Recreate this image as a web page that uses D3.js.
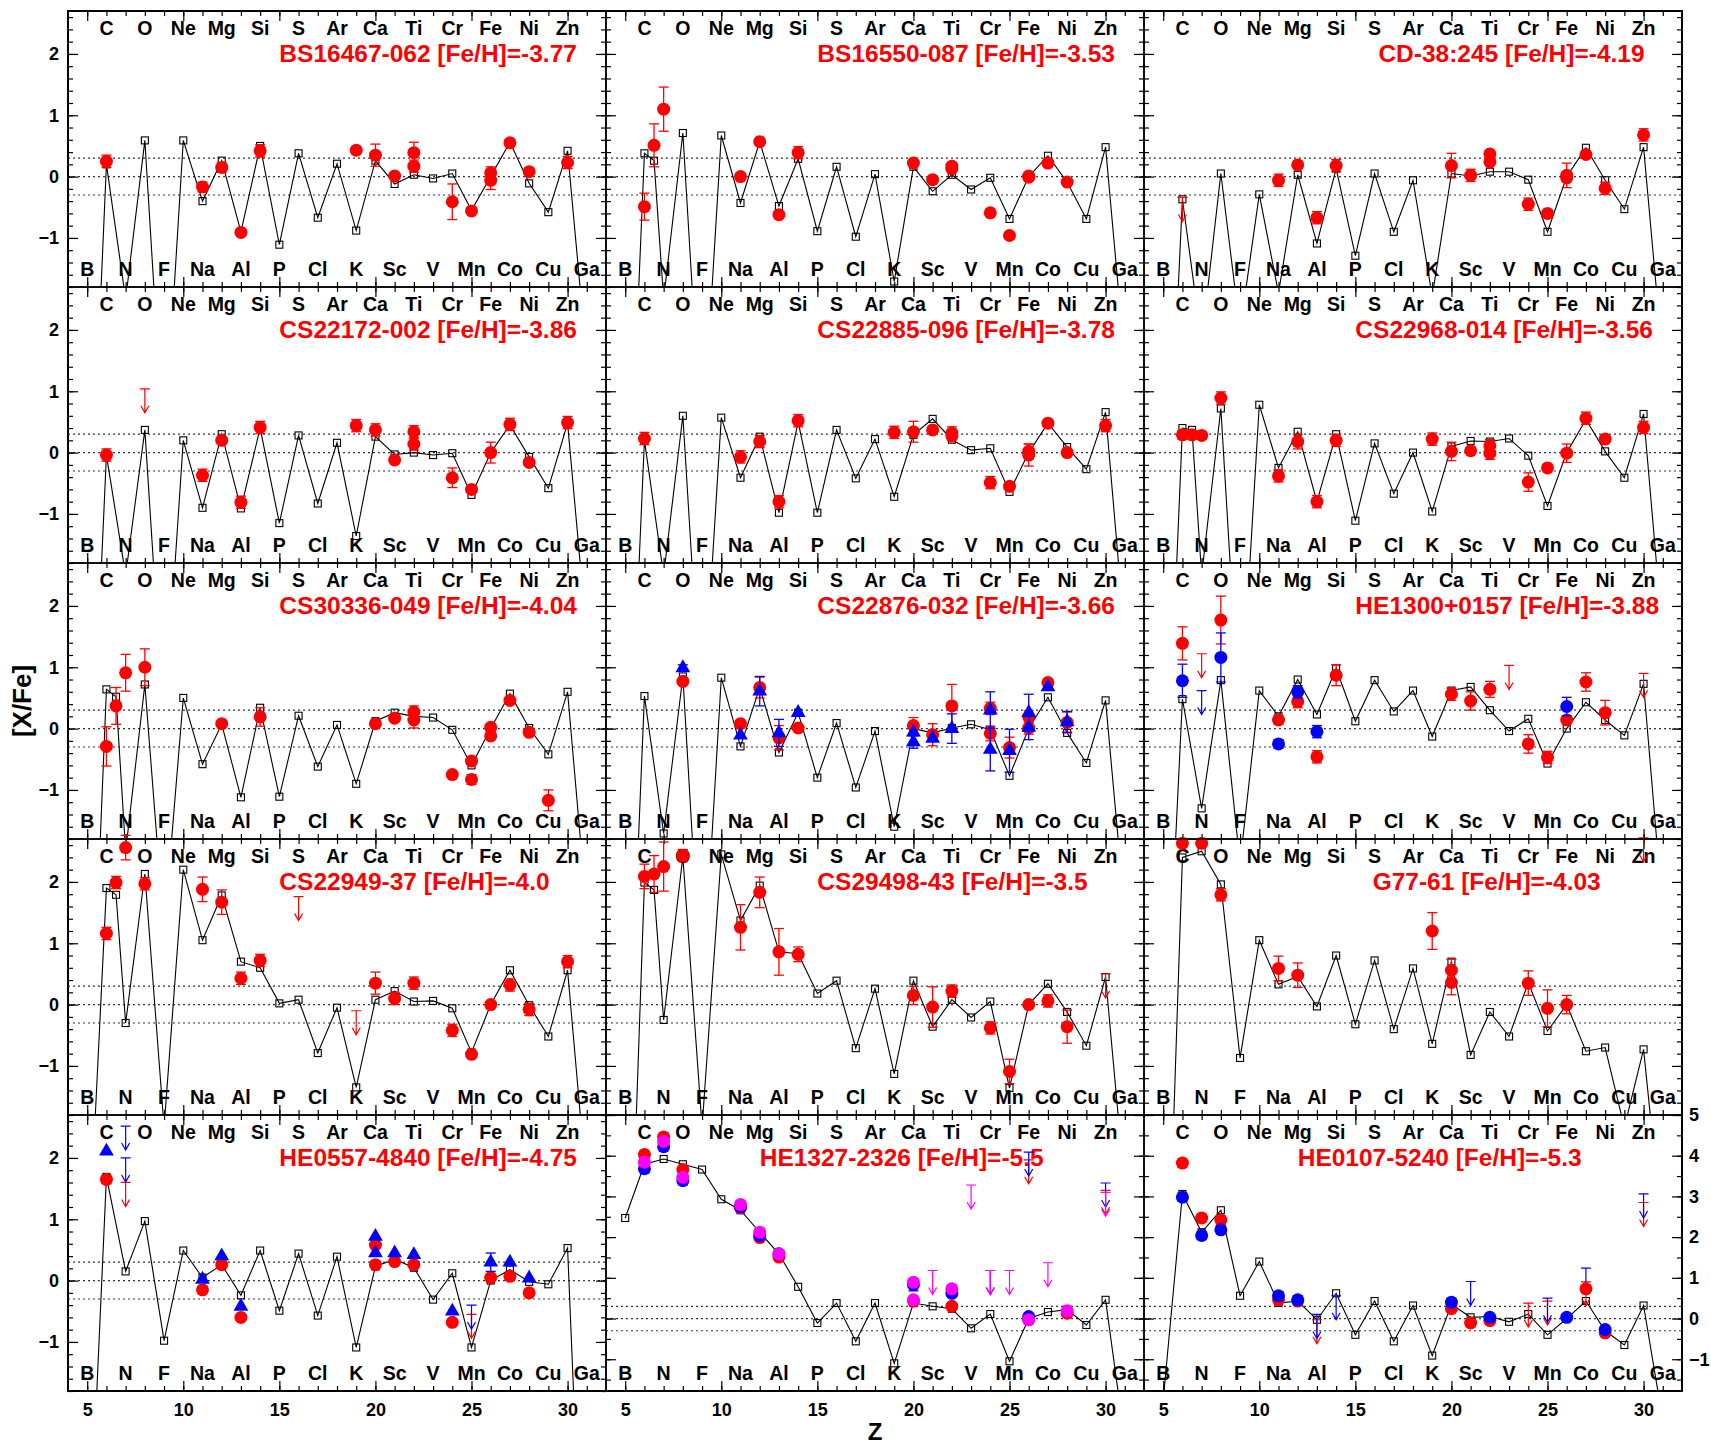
<!DOCTYPE html>
<html>
<head>
<meta charset="utf-8">
<script src="https://cdn.jsdelivr.net/npm/d3@7"></script>
<style>
  body { margin: 0; background: #fff; }
  svg { font-family: "Liberation Sans", Arial, sans-serif; font-weight: bold; }
</style>
</head>
<body>
<svg id="chart" width="1711" height="1444"></svg>
<script>
// element symbols, Z = 5 .. 31
const elementNames = ["B","C","N","O","F","Ne","Na","Mg","Al","Si","P","S","Cl","Ar","K",
  "Ca","Sc","Ti","V","Cr","Mn","Fe","Co","Ni","Cu","Zn","Ga"];

const starNames = ["BS16467-062","BS16550-087","CD-38:245","CS22172-002","CS22885-096","CS22968-014",
  "CS30336-049","CS22876-032","HE1300+0157","CS22949-37","CS29498-43","G77-61",
  "HE0557-4840","HE1327-2326","HE0107-5240"];
const starFeH = ["-3.77","-3.53","-4.19","-3.86","-3.78","-3.56","-4.04","-3.66","-3.88",
  "-4.0","-3.5","-4.03","-4.75","-5.5","-5.3"];
const titleZ = [15,15,16.2,15,15,15,15,15,15,15,15,15.9,15,12,12];
const rightScale = [0,0,0,0,0,0,0,0,0,0,0,0,0,1,1];

// model yields [Z, X/Fe]; points [Z, X/Fe, error]; limits [Z, upper value]
const model1 = [[5,-7],[6,0.2],[7,-2],[8,0.59],[9,-4.5],[10,0.59],[11,-0.4],[12,0.26],[13,-0.9],[14,0.5],[15,-1.11],[16,0.38],[17,-0.67],[18,0.21],[19,-0.88],[20,0.26],[21,-0.12],[22,0.03],[23,-0.03],[24,0.05],[25,-0.55],[26,0],[27,0.56],[28,-0.11],[29,-0.58],[30,0.42],[31,-3]];
const red1 = [[6,0.25,0.1],[11,-0.17,0.08],[12,0.15,0.08],[13,-0.91,0.05],[14,0.42,0.1],[19,0.43,0.06],[20,0.35,0.18],[21,0.01,0],[22,0.39,0.17],[22,0.17,0.1],[24,-0.41,0.29],[25,-0.56,0],[26,0.06,0.1],[26,-0.06,0.15],[27,0.55,0.05],[28,0.08,0],[30,0.23,0.1]];

const model2 = [[5,-7],[6,0.38],[6.5,0.26],[7,-2],[8,0.71],[9,-4.5],[10,0.67],[11,-0.43],[12,0.57],[13,-0.48],[14,0.29],[15,-0.89],[16,0.16],[17,-0.98],[18,0.04],[19,-1.71],[20,0.16],[21,-0.24],[22,0.03],[23,-0.21],[24,-0.02],[25,-0.69],[26,0],[27,0.34],[28,-0.09],[29,-0.69],[30,0.48],[31,-3]];
const red2 = [[6,-0.49,0.22],[6.5,0.51,0.35],[7,1.1,0.36],[11,0,0],[12,0.57,0],[13,-0.62,0],[14,0.39,0.1],[20,0.22,0],[21,-0.05,0],[22,0.17,0],[22,0.13,0],[24,-0.59,0.04],[25,-0.96,0.05],[26,0.01,0.04],[26,-0.01,0],[27,0.22,0.04],[28,-0.09,0]];

const model3 = [[5,-7],[6,-0.37],[7,-2.7],[8,0.05],[9,-2.5],[10,-0.29],[11,-1.9],[12,0.03],[13,-1.09],[14,0.13],[15,-1.29],[16,0.05],[17,-0.9],[18,-0.06],[19,-1.95],[20,0.05],[21,0.01],[22,0.08],[23,0.08],[24,-0.05],[25,-0.9],[26,0],[27,0.47],[28,-0.06],[29,-0.53],[30,0.48],[31,-3]];
const red3 = [[11,-0.06,0.1],[12,0.19,0],[13,-0.67,0.1],[14,0.18,0.1],[20,0.18,0.2],[21,0.02,0.1],[22,0.37,0],[22,0.24,0],[24,-0.45,0.1],[25,-0.6,0],[26,0.02,0.2],[26,-0.02,0],[27,0.36,0],[28,-0.19,0.1],[30,0.68,0.1]];
const redLim3 = [[6,-0.34]];

const model4 = [[5,-7],[6,-0.04],[7,-2],[8,0.37],[9,-4.5],[10,0.2],[11,-0.9],[12,0.3],[13,-0.91],[14,0.4],[15,-1.15],[16,0.28],[17,-0.83],[18,0.16],[19,-1.36],[20,0.26],[21,-0.03],[22,0],[23,-0.04],[24,-0.01],[25,-0.69],[26,0],[27,0.45],[28,-0.07],[29,-0.58],[30,0.48],[31,-3]];
const red4 = [[6,-0.04,0.1],[11,-0.37,0.1],[12,0.2,0],[13,-0.81,0.1],[14,0.41,0.1],[19,0.44,0.1],[20,0.37,0.1],[21,-0.12,0],[22,0.34,0.1],[22,0.14,0.1],[24,-0.41,0.16],[25,-0.6,0],[26,0,0.17],[27,0.46,0.1],[28,-0.16,0],[30,0.49,0.1]];
const redLim4 = [[8,1.04]];

const model5 = [[5,-7],[6,0.2],[7,-2],[8,0.6],[9,-4.5],[10,0.57],[11,-0.41],[12,0.26],[13,-0.98],[14,0.5],[15,-0.98],[16,0.37],[17,-0.42],[18,0.22],[19,-0.72],[20,0.29],[21,0.55],[22,0.21],[23,0.04],[24,0.07],[25,-0.64],[26,0],[27,0.48],[28,0.09],[29,-0.27],[30,0.66],[31,-3]];
const red5 = [[6,0.23,0.1],[11,-0.07,0.1],[12,0.18,0.1],[13,-0.8,0.1],[14,0.52,0.1],[19,0.33,0.1],[20,0.34,0.17],[21,0.37,0],[22,0.32,0.1],[22,0.27,0],[24,-0.49,0.1],[25,-0.55,0],[26,0.02,0.12],[26,-0.04,0.18],[27,0.48,0],[28,0,0],[30,0.44,0.1]];

const model6 = [[5,-7],[6,0.4],[6.5,0.37],[7,-2],[8,0.72],[9,-4.5],[10,0.78],[11,-0.25],[12,0.34],[13,-0.8],[14,0.3],[15,-1.11],[16,0.15],[17,-0.67],[18,0],[19,-0.96],[20,0.1],[21,0.19],[22,0.18],[23,0.23],[24,-0.05],[25,-0.87],[26,0],[27,0.54],[28,0.02],[29,-0.41],[30,0.63],[31,-3]];
const red6 = [[6,0.29,0.07],[6.5,0.29,0.05],[7,0.28,0.06],[8,0.89,0.1],[11,-0.38,0.1],[12,0.18,0.12],[13,-0.8,0.1],[14,0.2,0.1],[19,0.22,0.1],[20,0.02,0.15],[21,0.03,0],[22,0.11,0.1],[22,-0.01,0.1],[24,-0.48,0.15],[25,-0.25,0],[26,-0.01,0.15],[27,0.56,0.1],[28,0.22,0],[30,0.41,0.1]];

const model7 = [[5,-7],[6,0.64],[6.5,0.52],[7,-2],[8,0.72],[9,-3.3],[10,0.5],[11,-0.58],[12,0.07],[13,-1.12],[14,0.34],[15,-1.11],[16,0.21],[17,-0.62],[18,0.06],[19,-0.9],[20,0.12],[21,0.26],[22,0.2],[23,0.18],[24,-0.02],[25,-0.6],[26,0],[27,0.57],[28,0.01],[29,-0.42],[30,0.6],[31,-3]];
const red7 = [[6,-0.29,0.32],[6.5,0.37,0.3],[7,0.91,0.3],[8,1.0,0.3],[12,0.08,0],[14,0.19,0.15],[20,0.08,0],[21,0.17,0],[22,0.27,0.1],[22,0.14,0.13],[24,-0.75,0.05],[25,-0.53,0.05],[25,-0.83,0.08],[26,0.02,0.05],[26,-0.12,0.05],[27,0.46,0.05],[28,-0.06,0],[29,-1.17,0.17]];

const model8 = [[5,-7],[6,0.53],[7,-1.71],[8,0.85],[9,-4.5],[10,0.83],[11,-0.29],[12,0.67],[13,-0.39],[14,0.26],[15,-0.8],[16,0.09],[17,-0.96],[18,-0.04],[19,-1.6],[20,0],[21,-0.07],[22,0.01],[23,0.07],[24,-0.02],[25,-0.77],[26,0],[27,0.51],[28,-0.07],[29,-0.56],[30,0.46],[31,-3]];
const red8 = [[8,0.77,0],[11,0.08,0],[12,0.67,0.17],[13,-0.15,0.2],[14,0.01,0],[20,0.05,0.13],[21,-0.1,0.18],[22,0.37,0.35],[24,0.33,0.1],[24,-0.08,0.12],[25,-0.31,0.17],[26,0.19,0.1],[26,0.01,0.1],[27,0.75,0],[28,0.1,0.17]];
const blueTri8 = [[8,0.99,0.05],[11,-0.11,0],[12,0.61,0.24],[13,-0.07,0.22],[14,0.26,0],[20,-0.06,0],[20,-0.22,0.1],[21,-0.16,0],[22,0,0.24],[24,0.3,0.3],[24,-0.34,0.35],[25,-0.36,0.35],[26,0.26,0.3],[26,0.02,0.2],[27,0.68,0],[28,0.11,0.17]];

const model9 = [[5,-6],[6,0.48],[7,-1.3],[8,0.79],[9,-2.2],[10,0.62],[11,0.2],[12,0.8],[13,0.23],[14,0.98],[15,0.12],[16,0.79],[17,0.28],[18,0.62],[19,-0.13],[20,0.62],[21,0.68],[22,0.3],[23,-0.04],[24,0.16],[25,-0.57],[26,0],[27,0.43],[28,0.14],[29,-0.11],[30,0.73],[31,-3]];
const red9 = [[6,1.39,0.27],[8,1.77,0.39],[11,0.14,0.07],[12,0.44,0.1],[13,-0.46,0.1],[14,0.87,0.17],[20,0.56,0.1],[21,0.45,0.15],[22,0.64,0.13],[24,-0.25,0.15],[25,-0.47,0.1],[26,0.14,0],[27,0.76,0.15],[28,0.26,0.2]];
const redLim9 = [[7,1.22],[23,1.03],[30,0.9]];
const blue9 = [[6,0.78,0.27],[8,1.16,0.4],[11,-0.25,0.07],[12,0.6,0.1],[13,-0.05,0.1],[26,0.36,0.15]];
const blueLim9 = [[7,0.62]];

const model10 = [[5,-4.5],[6,1.9],[6.5,1.79],[7,-0.3],[8,2.13],[9,-2],[10,2.2],[11,1.05],[12,1.78],[13,0.7],[14,0.6],[15,0.02],[16,0.08],[17,-0.79],[18,-0.05],[19,-1.35],[20,0.08],[21,0.22],[22,0.05],[23,0.06],[24,-0.06],[25,-0.78],[26,0],[27,0.56],[28,-0.01],[29,-0.52],[30,0.56],[31,-3]];
const red10 = [[6,1.16,0.1],[6.5,1.99,0.1],[7,2.56,0.2],[8,1.97,0.1],[11,1.88,0.2],[12,1.67,0.2],[13,0.43,0.1],[14,0.72,0.1],[20,0.35,0.18],[21,0.1,0.1],[22,0.35,0.1],[24,-0.42,0.1],[25,-0.81,0.05],[26,0,0],[27,0.32,0.1],[28,-0.08,0.1],[30,0.7,0.1]];
const redLim10 = [[16,1.76],[19,-0.1]];

const model11 = [[5,-7],[6,1.99],[6.5,1.87],[7,-0.25],[8,2.41],[9,-2],[10,2.45],[11,1.37],[12,1.94],[13,0.86],[14,0.83],[15,0.18],[16,0.39],[17,-0.71],[18,0.26],[19,-1.13],[20,0.39],[21,-0.36],[22,0.08],[23,-0.21],[24,0.05],[25,-1.36],[26,0],[27,0.34],[28,-0.12],[29,-0.67],[30,0.45],[31,-3]];
const red11 = [[6,2.09,0.2],[6.5,2.13,0.3],[7,2.25,0.4],[8,2.43,0.1],[11,1.26,0.37],[12,1.83,0.25],[13,0.86,0.38],[14,0.82,0.12],[20,0.15,0.15],[21,-0.04,0.33],[22,0.22,0.1],[24,-0.38,0.1],[25,-1.09,0.2],[26,0,0],[27,0.06,0.1],[28,-0.36,0.27]];
const redLim11 = [[30,0.5]];

const model12 = [[5,-7],[6,2.4],[7,2.5],[8,1.96],[9,-0.87],[10,1.05],[11,0.33],[12,0.46],[13,-0.03],[14,0.8],[15,-0.32],[16,0.72],[17,-0.4],[18,0.59],[19,-0.64],[20,0.7],[21,-0.82],[22,-0.12],[23,-0.52],[24,0.36],[25,-0.43],[26,0],[27,-0.76],[28,-0.7],[29,-2],[30,-0.73],[31,-3.8]];
const red12 = [[6,2.63,0],[7,2.63,0],[8,1.79,0.1],[11,0.59,0.2],[12,0.48,0.2],[19,1.2,0.3],[20,0.56,0.18],[20,0.36,0.2],[24,0.35,0.2],[25,-0.06,0.3],[26,0,0.15]];
const redLim12 = [[30,2.72]];

const model13 = [[5,-5.3],[6,1.69],[7,0.15],[8,0.97],[9,-0.98],[10,0.49],[11,0.05],[12,0.26],[13,-0.24],[14,0.49],[15,-0.49],[16,0.44],[17,-0.57],[18,0.39],[19,-1.09],[20,0.23],[21,0.35],[22,0.21],[23,-0.31],[24,0.12],[25,-1.09],[26,0],[27,0.18],[28,-0.02],[29,-0.06],[30,0.53],[31,-7]];
const red13 = [[6,1.65,0.07],[11,-0.15,0],[12,0.26,0],[13,-0.6,0],[20,0.58,0],[20,0.26,0],[21,0.31,0],[22,0.26,0],[24,-0.68,0],[26,0.05,0],[27,0.07,0],[28,-0.2,0]];
const redLim13 = [[7,1.6],[25,-0.55]];
const blueTri13 = [[6,2.11,0],[11,0.02,0],[12,0.4,0],[13,-0.42,0],[20,0.72,0],[20,0.45,0],[21,0.45,0],[22,0.42,0],[24,-0.5,0],[26,0.3,0.15],[27,0.3,0],[28,0.04,0]];
const blueLim13 = [[7,2.52],[7,2.0],[25,-0.4]];

const model14 = [[5,2.47],[6,3.79],[7,3.92],[8,3.79],[9,3.66],[10,2.93],[11,2.66],[12,2.12],[13,1.59],[14,0.78],[15,-0.11],[16,0.38],[17,-0.56],[18,0.38],[19,-1.1],[20,0.38],[21,0.3],[22,0.24],[23,-0.24],[24,0.11],[25,-1.05],[26,0],[27,0.16],[28,0.22],[29,-0.16],[30,0.46],[31,-3]];
const red14 = [[6,4.03,0.1],[7,4.46,0.1],[8,3.66,0],[11,2.72,0],[12,1.99,0],[13,1.51,0],[20,0.43,0],[22,0.3,0],[26,-0.03,0],[28,0.13,0]];
const blue14 = [[6,3.68,0.1],[7,4.22,0.1],[8,3.39,0.1],[11,2.74,0],[12,2.04,0],[13,1.59,0],[20,0.83,0.15],[22,0.62,0],[26,0.05,0]];
const magenta14 = [[6,3.84,0],[7,4.35,0],[8,3.47,0],[11,2.8,0.1],[12,2.12,0.1],[13,1.59,0.1],[20,0.89,0],[20,0.46,0],[22,0.73,0],[26,-0.03,0.1],[28,0.19,0]];
const redLim14 = [[26,3.9],[30,3.15]];
const blueLim14 = [[24,1.18],[26,4.09],[30,3.33]];
const magentaLim14 = [[21,1.18],[23,3.28],[24,1.18],[25,1.18],[27,1.37],[30,3.1]];

const model15 = [[5,-2],[6,3.06],[7,2.12],[8,2.66],[9,0.56],[10,1.4],[11,0.38],[12,0.43],[13,-0.03],[14,0.62],[15,-0.4],[16,0.43],[17,-0.56],[18,0.32],[19,-0.91],[20,0.35],[21,0.03],[22,0.05],[23,-0.08],[24,0.11],[25,-0.4],[26,0],[27,0.43],[28,-0.3],[29,-0.65],[30,0.32],[31,-2.5]];
const red15 = [[6,3.82,0.1],[7,2.47,0.1],[8,2.42,0.1],[11,0.46,0],[12,0.43,0],[20,0.24,0],[21,-0.11,0],[22,-0.05,0],[27,0.73,0],[28,-0.35,0]];
const blue15 = [[6,2.98,0.1],[7,2.04,0.1],[8,2.18,0.1],[11,0.56,0.1],[12,0.46,0.1],[20,0.4,0.1],[22,0.03,0],[26,0.03,0],[28,-0.27,0]];
const redLim15 = [[13,-0.03],[24,0.38],[25,0.43],[27,0.9],[30,2.85]];
const blueLim15 = [[13,0.1],[14,0.56],[21,0.91],[25,0.5],[27,1.24],[30,3.06]];

const panels = [
  { model: model1, red: red1 },
  { model: model2, red: red2 },
  { model: model3, red: red3, redLim: redLim3 },
  { model: model4, red: red4, redLim: redLim4 },
  { model: model5, red: red5 },
  { model: model6, red: red6 },
  { model: model7, red: red7 },
  { model: model8, red: red8, blueTri: blueTri8 },
  { model: model9, red: red9, redLim: redLim9, blue: blue9, blueLim: blueLim9 },
  { model: model10, red: red10, redLim: redLim10 },
  { model: model11, red: red11, redLim: redLim11 },
  { model: model12, red: red12, redLim: redLim12 },
  { model: model13, red: red13, redLim: redLim13, blueTri: blueTri13, blueLim: blueLim13 },
  { model: model14, red: red14, blue: blue14, magenta: magenta14, redLim: redLim14, blueLim: blueLim14, magentaLim: magentaLim14 },
  { model: model15, red: red15, blue: blue15, redLim: redLim15, blueLim: blueLim15 },
];

const RED = "#ff0000", BLUE = "#0000ff", MAGENTA = "#ff00ff";
const gridLeft = 68, gridTop = 11, colW = 538, rowH = 276;

const svg = d3.select("#chart");
const x = d3.scaleLinear().domain([4, 32]).range([0, colW]);
const yLeft = d3.scaleLinear().domain([-1.8, 2.7]).range([rowH, 0]);
const yRight = d3.scaleLinear().domain([-1.78, 5]).range([rowH, 0]);

svg.append("defs").append("clipPath").attr("id", "clip")
  .append("rect").attr("width", colW).attr("height", rowH);

function inward(g, axis) {
  g.call(axis).call((s) => s.select(".domain").remove());
  g.selectAll(".tick line").attr("stroke", "#000").attr("stroke-width", 1.2);
}

function drawErrors(g, data, y, color) {
  const e = data.filter((d) => d[2] > 0);
  g.selectAll(null).data(e).join("line")
    .attr("x1", (d) => x(d[0])).attr("x2", (d) => x(d[0]))
    .attr("y1", (d) => y(d[1] + d[2])).attr("y2", (d) => y(d[1] - d[2]))
    .attr("stroke", color).attr("stroke-width", 1.3);
  [1, -1].forEach((s) => {
    g.selectAll(null).data(e).join("line")
      .attr("x1", (d) => x(d[0]) - 5).attr("x2", (d) => x(d[0]) + 5)
      .attr("y1", (d) => y(d[1] + s * d[2])).attr("y2", (d) => y(d[1] + s * d[2]))
      .attr("stroke", color).attr("stroke-width", 1.3);
  });
}

function drawCircles(g, data, y, color) {
  if (!data) return;
  drawErrors(g, data, y, color);
  g.selectAll(null).data(data).join("circle")
    .attr("cx", (d) => x(d[0])).attr("cy", (d) => y(d[1]))
    .attr("r", 6.5).attr("fill", color);
}

function drawTriangles(g, data, y, color) {
  if (!data) return;
  drawErrors(g, data, y, color);
  g.selectAll(null).data(data).join("path")
    .attr("transform", (d) => `translate(${x(d[0])},${y(d[1])})`)
    .attr("d", d3.symbol(d3.symbolTriangle, 95))
    .attr("fill", color);
}

function drawLimits(g, data, y, color) {
  if (!data) return;
  g.selectAll(null).data(data).join("path")
    .attr("d", (d) => {
      const cx = x(d[0]), cy = y(d[1]);
      return `M${cx - 5},${cy}H${cx + 5}M${cx},${cy}V${cy + 24}` +
        `M${cx - 4},${cy + 17}L${cx},${cy + 24}L${cx + 4},${cy + 17}`;
    })
    .attr("fill", "none").attr("stroke", color).attr("stroke-width", 1.2);
}

panels.forEach((p, i) => {
  const col = i % 3, row = Math.floor(i / 3);
  const y = rightScale[i] ? yRight : yLeft;
  const g = svg.append("g")
    .attr("transform", `translate(${gridLeft + col * colW},${gridTop + row * rowH})`);

  // reference lines at 0 and +-0.3 dex
  g.selectAll(null).data([0.3, 0, -0.3]).join("line")
    .attr("x1", 0).attr("x2", colW)
    .attr("y1", (d) => y(d)).attr("y2", (d) => y(d))
    .attr("stroke", "#333").attr("stroke-width", 1.2)
    .attr("stroke-dasharray", "2,3");

  // ticks, pointing inside the frame
  const yMajor = rightScale[i] ? d3.range(-1, 6) : d3.range(-1, 3);
  const yMinor = rightScale[i] ? d3.range(-1.5, 5, 0.5) : d3.range(-1.8, 2.7, 0.2);
  const xMajor = d3.range(5, 31, 5), xMinor = d3.range(5, 32);
  inward(g.append("g"), d3.axisLeft(y).tickValues(yMinor).tickSize(-5).tickFormat(""));
  inward(g.append("g"), d3.axisLeft(y).tickValues(yMajor).tickSize(-10).tickFormat(""));
  inward(g.append("g").attr("transform", `translate(${colW},0)`),
    d3.axisRight(y).tickValues(yMinor).tickSize(-5).tickFormat(""));
  inward(g.append("g").attr("transform", `translate(${colW},0)`),
    d3.axisRight(y).tickValues(yMajor).tickSize(-10).tickFormat(""));
  inward(g.append("g"), d3.axisTop(x).tickValues(xMinor).tickSize(-5).tickFormat(""));
  inward(g.append("g"), d3.axisTop(x).tickValues(xMajor).tickSize(-10).tickFormat(""));
  inward(g.append("g").attr("transform", `translate(0,${rowH})`),
    d3.axisBottom(x).tickValues(xMinor).tickSize(-5).tickFormat(""));
  inward(g.append("g").attr("transform", `translate(0,${rowH})`),
    d3.axisBottom(x).tickValues(xMajor).tickSize(-10).tickFormat(""));

  // element symbols: even Z along the top, odd Z along the bottom
  g.selectAll(null).data(elementNames).join("text")
    .attr("x", (d, k) => x(5 + k))
    .attr("y", (d, k) => ((5 + k) % 2 === 0 ? 24 : rowH - 11))
    .attr("text-anchor", "middle").attr("font-size", 19.5).attr("fill", "#000")
    .text((d) => d);

  g.append("text")
    .attr("x", x(titleZ[i])).attr("y", 51)
    .attr("font-size", 24.5).attr("fill", RED)
    .text(`${starNames[i]} [Fe/H]=${starFeH[i]}`);

  // model yields
  const [lo, hi] = y.domain();
  g.append("path").datum(p.model)
    .attr("clip-path", "url(#clip)")
    .attr("d", d3.line().x((d) => x(d[0])).y((d) => y(d[1])))
    .attr("fill", "none").attr("stroke", "#000").attr("stroke-width", 1.1);
  g.selectAll(null).data(p.model.filter((d) => d[1] >= lo && d[1] <= hi)).join("rect")
    .attr("x", (d) => x(d[0]) - 3.5).attr("y", (d) => y(d[1]) - 3.5)
    .attr("width", 7).attr("height", 7)
    .attr("fill", "none").attr("stroke", "#000").attr("stroke-width", 1.1);

  drawLimits(g, p.redLim, y, RED);
  drawLimits(g, p.blueLim, y, BLUE);
  drawLimits(g, p.magentaLim, y, MAGENTA);
  drawCircles(g, p.red, y, RED);
  drawCircles(g, p.blue, y, BLUE);
  drawCircles(g, p.magenta, y, MAGENTA);
  drawTriangles(g, p.blueTri, y, BLUE);

  g.append("rect").attr("width", colW).attr("height", rowH)
    .attr("fill", "none").attr("stroke", "#000").attr("stroke-width", 1.5);
});

svg.append("rect").attr("x", gridLeft).attr("y", gridTop)
  .attr("width", colW * 3).attr("height", rowH * 5)
  .attr("fill", "none").attr("stroke", "#000").attr("stroke-width", 2);

// outer tick labels
function labels(g) {
  g.call((s) => s.select(".domain").remove());
  g.selectAll("text").attr("font-size", 18).attr("fill", "#000")
    .attr("font-family", "Liberation Sans, Arial, sans-serif").attr("font-weight", "bold");
}
for (let r = 0; r < 5; r++) {
  svg.append("g").attr("transform", `translate(${gridLeft},${gridTop + r * rowH})`)
    .call(d3.axisLeft(yLeft).tickValues([-1, 0, 1, 2]).tickSize(0).tickPadding(9)
      .tickFormat(d3.format("d")))
    .call(labels);
}
for (let c = 0; c < 3; c++) {
  svg.append("g").attr("transform", `translate(${gridLeft + c * colW},${gridTop + 5 * rowH})`)
    .call(d3.axisBottom(x).tickValues(d3.range(5, 31, 5)).tickSize(0).tickPadding(12))
    .call(labels);
}
svg.append("g").attr("transform", `translate(${gridLeft + 3 * colW},${gridTop + 4 * rowH})`)
  .call(d3.axisRight(yRight).tickValues(d3.range(-1, 6)).tickSize(0).tickPadding(7)
    .tickFormat(d3.format("d")))
  .call(labels);

svg.append("text")
  .attr("transform", `translate(31,${gridTop + 2.5 * rowH}) rotate(-90)`)
  .attr("text-anchor", "middle").attr("font-size", 26)
  .text("[X/Fe]");
svg.append("text")
  .attr("x", gridLeft + 1.5 * colW).attr("y", 1440)
  .attr("text-anchor", "middle").attr("font-size", 24)
  .text("Z");
</script>
</body>
</html>
